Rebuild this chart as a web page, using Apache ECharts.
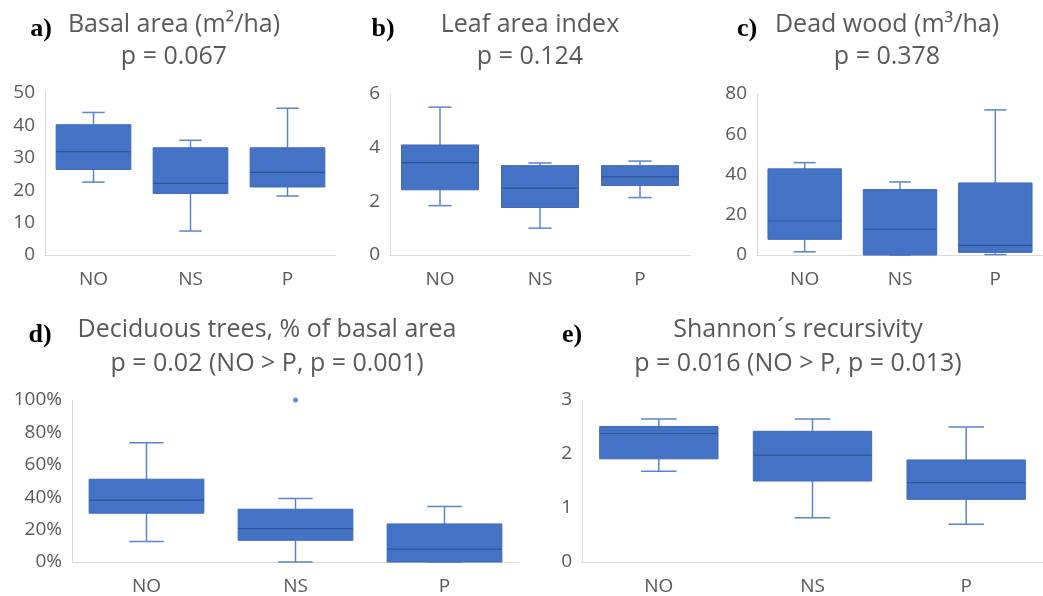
<!DOCTYPE html>
<html>
<head>
<meta charset="utf-8">
<script src="https://cdn.jsdelivr.net/npm/echarts@6/dist/echarts.min.js"></script>
<style>
html,body{margin:0;padding:0;background:#fff;}
#chart{width:1043px;height:596px;}
</style>
</head>
<body>
<div id="chart"></div>
<script>
// ---- data (min, Q1, median, Q3, max) ----
const categories = ['NO', 'NS', 'P'];
const basalArea = [[22.5, 26.4, 31.9, 40.2, 44.0], [7.4, 19.0, 22.1, 33.1, 35.4], [18.2, 21.0, 25.5, 33.1, 45.3]];
const leafArea = [[1.84, 2.43, 3.44, 4.10, 5.51], [1.0, 1.77, 2.49, 3.33, 3.43], [2.14, 2.59, 2.91, 3.33, 3.50]];
const deadWood = [[1.6, 7.8, 16.9, 42.8, 45.9], [0, 0, 12.8, 32.5, 36.3], [0.2, 1.3, 4.8, 35.8, 72.1]];
const deciduous = [[12.6, 30.1, 38.2, 51.1, 73.6], [0, 13.4, 20.6, 32.6, 39.2], [0, 0, 7.9, 23.5, 34.3]];
const deciduousOutliers = [['NS', 100]];
const shannon = [[1.68, 1.91, 2.38, 2.51, 2.65], [0.82, 1.50, 1.98, 2.42, 2.65], [0.70, 1.16, 1.47, 1.89, 2.50]];

const panelLetters = ['a)', 'b)', 'c)', 'd)', 'e)'];
const titleLine1 = ['Basal area (m\u00B2/ha)', 'Leaf area index', 'Dead wood (m\u00B3/ha)', 'Deciduous trees, % of basal area', 'Shannon\u00B4s recursivity'];
const titleLine2 = ['p = 0.067', 'p = 0.124', 'p = 0.378', 'p = 0.02 (NO > P, p = 0.001)', 'p = 0.016 (NO > P, p = 0.013)'];
const yMax = [50, 6, 80, 100, 3];
const yInterval = [10, 2, 20, 20, 1];

// ---- layout ----
const FONT = '"Open Sans", "Noto Sans", sans-serif';
const GRAY = '#595959';
const AXIS = '#D9D9D9';
const BLUE = '#4472C4';
const grids = [
  {left: 45, top: 93, width: 291, height: 162},
  {left: 390, top: 94, width: 300, height: 161},
  {left: 757, top: 94, width: 291, height: 161},
  {left: 72, top: 400, width: 447, height: 162},
  {left: 582, top: 400, width: 470, height: 162}
];
const titlePos = [
  {x: 174, y1: 25, y2: 57, lx: 41, ly: 29},
  {x: 530, y1: 25, y2: 57, lx: 383, ly: 29},
  {x: 887, y1: 25, y2: 57, lx: 747, ly: 29},
  {x: 267, y1: 330, y2: 364, lx: 40, ly: 335},
  {x: 798, y1: 330, y2: 364, lx: 572, ly: 335}
];

function renderBox(params, api) {
  const x = api.value(0);
  const lo = api.coord([x, api.value(1)]);
  const q1 = api.coord([x, api.value(2)]);
  const md = api.coord([x, api.value(3)]);
  const q3 = api.coord([x, api.value(4)]);
  const hi = api.coord([x, api.value(5)]);
  const bw = api.size([1, 0])[0] * 0.77;
  const cw = bw * 0.3;
  const cx = lo[0];
  const wStyle = {stroke: '#5A84CC', lineWidth: 1.5};
  return {
    type: 'group',
    children: [
      {type: 'line', shape: {x1: cx, y1: hi[1], x2: cx, y2: q3[1]}, style: wStyle},
      {type: 'line', shape: {x1: cx, y1: lo[1], x2: cx, y2: q1[1]}, style: wStyle},
      {type: 'line', shape: {x1: cx - cw / 2, y1: hi[1], x2: cx + cw / 2, y2: hi[1]}, style: wStyle},
      {type: 'line', shape: {x1: cx - cw / 2, y1: lo[1], x2: cx + cw / 2, y2: lo[1]}, style: wStyle},
      {type: 'rect', shape: {x: cx - bw / 2, y: q3[1], width: bw, height: q1[1] - q3[1]},
        style: {fill: BLUE, stroke: '#3F6BBA', lineWidth: 1}},
      {type: 'line', shape: {x1: cx - bw / 2, y1: md[1], x2: cx + bw / 2, y2: md[1]},
        style: {stroke: '#2F5597', lineWidth: 1.2}}
    ]
  };
}

const datasets = [basalArea, leafArea, deadWood, deciduous, shannon];

const xAxes = [], yAxes = [], series = [], graphics = [];
datasets.forEach((d, i) => {
  xAxes.push({
    type: 'category', gridIndex: i, data: categories,
    axisLine: {lineStyle: {color: AXIS, width: 1}},
    axisTick: {show: false},
    axisLabel: {color: GRAY, fontSize: 19, fontFamily: FONT, margin: 15}
  });
  yAxes.push({
    type: 'value', gridIndex: i, min: 0, max: yMax[i], interval: yInterval[i],
    axisLine: {show: true, lineStyle: {color: AXIS, width: 1}},
    axisTick: {show: false},
    splitLine: {show: false},
    axisLabel: {color: GRAY, fontSize: 19, fontFamily: FONT, margin: 10,
      formatter: i === 3 ? '{value}%' : '{value}'}
  });
  series.push({
    type: 'custom', xAxisIndex: i, yAxisIndex: i,
    renderItem: renderBox,
    encode: {x: 0, y: [1, 2, 3, 4, 5]},
    data: d.map((v, k) => [k].concat(v)),
    clip: false
  });
  const t = titlePos[i];
  graphics.push({type: 'text', x: t.x, y: t.y1, style: {text: titleLine1[i], textAlign: 'center', textVerticalAlign: 'middle', font: '25px ' + FONT, fill: GRAY}});
  graphics.push({type: 'text', x: t.x, y: t.y2, style: {text: titleLine2[i], textAlign: 'center', textVerticalAlign: 'middle', font: '25px ' + FONT, fill: GRAY}});
  graphics.push({type: 'text', x: t.lx, y: t.ly, style: {text: panelLetters[i], textAlign: 'center', textVerticalAlign: 'middle', font: 'bold 26px "Liberation Serif", "Times New Roman", serif', fill: '#000'}});
});

series.push({
  type: 'scatter', xAxisIndex: 3, yAxisIndex: 3,
  data: deciduousOutliers, symbol: 'circle', symbolSize: 5,
  itemStyle: {color: BLUE}
});

const chart = echarts.init(document.getElementById('chart'), null, {renderer: 'canvas'});
chart.setOption({
  animation: false,
  grid: grids,
  xAxis: xAxes,
  yAxis: yAxes,
  series: series,
  graphic: graphics
});
</script>
</body>
</html>
